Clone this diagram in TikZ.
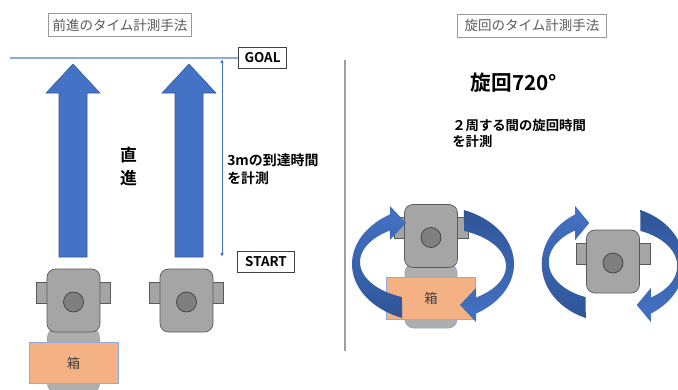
\documentclass[tikz,border=0pt]{standalone}
\usepackage{fontspec}
\setmainfont{Noto Sans CJK JP}[BoldFont={Noto Sans CJK JP Bold}]
\usetikzlibrary{positioning,arrows.meta}

\definecolor{officeblue}{HTML}{4472C4}
\definecolor{officedark}{HTML}{2F5597}
\definecolor{lineblue}{HTML}{8FAADC}
\definecolor{boxorange}{HTML}{F4B183}
\definecolor{bodygray}{HTML}{A5A5A5}
\definecolor{wheelgray}{HTML}{7F7F7F}
\definecolor{edgegray}{HTML}{595959}

\tikzset{
  robot/.pic={
    \draw[tabpart] (-37,-18.5) rectangle (-26,2.5);
    \draw[tabpart] (26,-18.5) rectangle (37,2.5);
    \draw[bodypart] (-26.5,-31.5) rectangle (26.5,31.5);
    \draw[wheelpart] (0,1.5) circle (10);
  },
  carrier/.pic={
    \draw[trailpart] (-26,28) rectangle (26,92);
    \node[boxpart] (box) at (0,62.5) {箱};
  }
}

\begin{document}
\begin{tikzpicture}[x=0.025cm,y=-0.025cm,
  every node/.style={inner sep=0pt},
  headbox/.style={draw=gray!80,line width=0.6pt,text=black!65,font=\fontsize{9.6}{11}\selectfont,minimum height=16.3pt},
  markbox/.style={draw=black!75,line width=0.6pt,font=\bfseries\fontsize{9.5}{11}\selectfont,minimum height=14.5pt},
  bigarrow/.style={fill=officeblue,draw=officeblue!80!black,line width=0.4pt},
  goalline/.style={lineblue,line width=0.8pt},
  dimline/.style={officeblue,line width=0.6pt,arrows={Latex[length=3pt,width=2.6pt]-Latex[length=3pt,width=2.6pt]}},
  sepline/.style={gray!75,line width=0.9pt},
  tabpart/.style={fill=bodygray,draw=edgegray,line width=0.5pt},
  bodypart/.style={fill=bodygray,draw=edgegray,line width=0.5pt,rounded corners=6pt},
  wheelpart/.style={fill=wheelgray,draw=edgegray!70!black,line width=0.5pt},
  trailpart/.style={fill=bodygray!90!white,draw=lineblue!80!gray,line width=0.4pt,rounded corners=6pt},
  boxpart/.style={fill=boxorange,draw=lineblue,line width=0.4pt,minimum width=63pt,minimum height=29.5pt,font=\fontsize{9.5}{11}\selectfont,text=black!75},
  turn up/.style={top color=officeblue,bottom color=officedark},
  turn down/.style={top color=officedark,bottom color=officeblue},
  note/.style={font=\bfseries\fontsize{9.9}{12.8}\selectfont,align=left}
]
\useasboundingbox (0,0) rectangle (678,389);
\clip (0,0) rectangle (678,389);

% titles
\node[headbox,minimum width=102pt] (runtitle) at (120,25) {前進のタイム計測手法};
\node[headbox,minimum width=106pt] (turntitle) at (532,25.5) {旋回のタイム計測手法};

% left half: straight run
\node[markbox,minimum width=34.7pt] (goal) at (262.5,58) {GOAL};
\node[markbox,minimum width=41pt] (start) at (266,262) {START};
\coordinate (goalstart) at (10,58);
\coordinate (dimtop) at (222,59);
\coordinate (dimbot) at (222,257);
\draw[goalline] (goalstart) -- (goal.west);
\draw[dimline] (dimtop) -- (dimbot);

\foreach \ax in {73,189}
  \draw[bigarrow] (\ax-14,257) -- (\ax-14,93) -- (\ax-27,93) -- (\ax,64)
    -- (\ax+27,93) -- (\ax+14,93) -- (\ax+14,257) -- cycle;

\node[font=\bfseries\fontsize{12}{16.3}\selectfont,align=center] (straight) at (128.5,166.5) {直\\進};
\node[note,anchor=west] (runnote) at (227,169) {3mの到達時間\\を計測};

\pic (lcarry) at (73.5,300.5) {carrier};
\pic (lrobot) at (73.5,300.5) {robot};
\pic (rrobot) at (186.5,300.5) {robot};

% divider
\draw[sepline] (345,60) -- (345,351);

% right half: turning
\node[font=\bfseries\fontsize{14.7}{17}\selectfont] (turnhead) at (514,83) {旋回720°};
\node[note,anchor=west,font=\bfseries\fontsize{9.5}{11.3}\selectfont] (turnnote) at (452,133) {２周する間の旋回時間\\を計測};

\pic (tcarry) at (431,236) {carrier};
\pic (trobot) at (431,236) {robot};
\pic (srobot) at (613,261.5) {robot};

% two curved arrows round each robot
\foreach \cx/\sx in {433/1,613/0.88}{
  \begin{scope}[shift={(\cx,264)},xscale=\sx]
    \path[turn up] plot[domain=111.5:238.7,samples=40] ({-2+79*cos(\x)},{58*sin(\x)})
      -- (-43,-58) -- (-27,-41) -- (-43,-24)
      -- plot[domain=236:112.5,samples=40] ({-5+68*cos(\x)},{-2+38*sin(\x)}) -- cycle;
    \path[turn down] plot[domain=111.5:238.7,samples=40] ({2-79*cos(\x)},{-58*sin(\x)})
      -- (43,58) -- (27,41) -- (43,24)
      -- plot[domain=236:112.5,samples=40] ({5-68*cos(\x)},{2-38*sin(\x)}) -- cycle;
  \end{scope}
}
\end{tikzpicture}
\end{document}
